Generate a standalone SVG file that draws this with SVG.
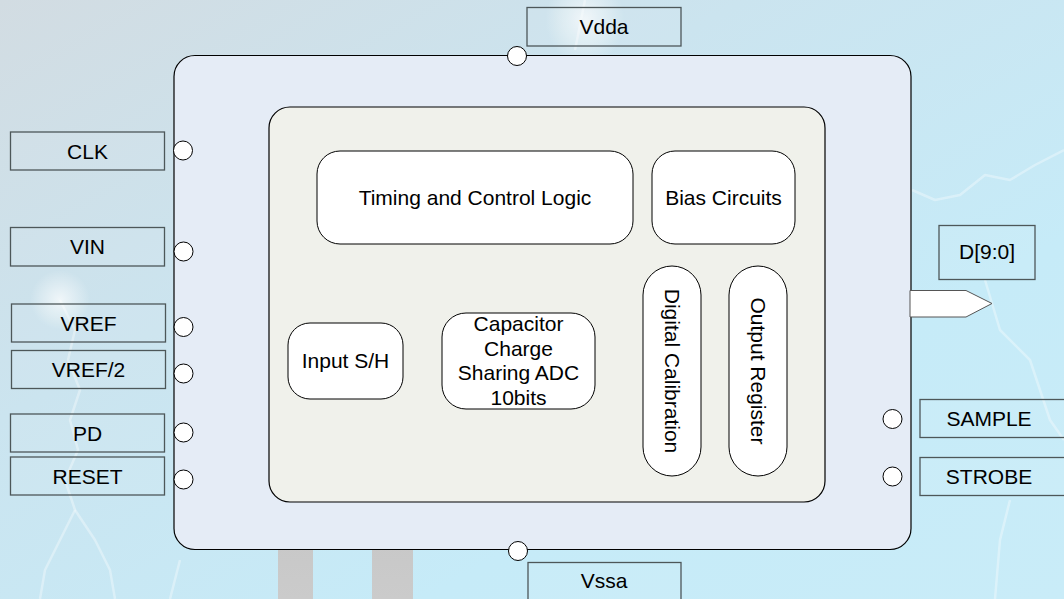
<svg xmlns="http://www.w3.org/2000/svg" width="1064" height="599" viewBox="0 0 1064 599">
<defs>
<linearGradient id="bg" x1="0" y1="0" x2="1" y2="1">
<stop offset="0" stop-color="#d2dce2"/>
<stop offset="0.35" stop-color="#cbe4ef"/>
<stop offset="0.7" stop-color="#c6ebf8"/>
<stop offset="1" stop-color="#c9ecf8"/>
</linearGradient>
<radialGradient id="glow" cx="0.5" cy="0.5" r="0.5">
<stop offset="0" stop-color="#ffffff" stop-opacity="0.7"/>
<stop offset="1" stop-color="#ffffff" stop-opacity="0"/>
</radialGradient>
<linearGradient id="bar" x1="0" y1="0" x2="0" y2="1">
<stop offset="0" stop-color="#c4c9cc" stop-opacity="0.2"/>
<stop offset="0.3" stop-color="#c8c8c8"/>
<stop offset="1" stop-color="#cbcbcb"/>
</linearGradient>
<style>
text{font-family:"Liberation Sans",Arial,sans-serif;font-size:21px;fill:#000;text-anchor:middle}
.lbl{fill:#ffffff;fill-opacity:0.06;stroke:#4d5759;stroke-width:1.3}
.pin{fill:#ffffff;stroke:#000;stroke-width:1}
.blk{fill:#ffffff;stroke:#000;stroke-width:1}
.bolt{fill:none;stroke:#ffffff;stroke-opacity:0.35;stroke-width:2.5;stroke-linejoin:round}
</style>
</defs>
<g id="background">
<rect x="0" y="0" width="1064" height="599" fill="url(#bg)"/>
<ellipse cx="585" cy="20" rx="40" ry="45" fill="url(#glow)"/>
<ellipse cx="60" cy="300" rx="30" ry="30" fill="url(#glow)"/>
<polyline class="bolt" points="60,300 75,330 68,360 80,390 70,420 78,450 65,480 75,510 60,540 45,570 40,599"/>
<polyline class="bolt" points="75,510 95,540 110,570 115,599"/>
<polyline class="bolt" points="585,0 580,25 575,50"/>
<polyline class="bolt" stroke-opacity="0.3" points="912,190 935,200 960,195 985,175 1010,180 1035,165 1064,150"/>
<polyline class="bolt" stroke-opacity="0.3" points="985,280 1000,330 1030,360 1050,420 1064,440"/>
<polyline class="bolt" stroke-opacity="0.25" points="1010,500 1000,540 995,599"/>
<polyline class="bolt" stroke-opacity="0.25" points="180,560 170,599"/>
<rect x="278" y="520" width="35" height="79" fill="url(#bar)"/>
<rect x="372" y="520" width="41" height="79" fill="url(#bar)"/>
</g>
<g id="chip">
<rect x="174" y="55.5" width="737" height="494" rx="21" fill="#e5ecf6" stroke="#000" stroke-width="1.2"/>
</g>
<g id="core">
<rect x="269" y="107" width="556" height="395" rx="21" fill="#f0f1eb" stroke="#000" stroke-width="1.2"/>
</g>
<g id="timing">
<rect class="blk" x="317" y="151" width="316" height="93" rx="23"/>
<text x="475" y="205">Timing and Control Logic</text>
</g>
<g id="bias">
<rect class="blk" x="652" y="151" width="143" height="93" rx="23"/>
<text x="723.5" y="205">Bias Circuits</text>
</g>
<g id="input-sh">
<rect class="blk" x="288" y="323" width="115" height="76" rx="22"/>
<text x="345.5" y="368">Input S/H</text>
</g>
<g id="adc">
<rect class="blk" x="442" y="313" width="153" height="96" rx="24"/>
<text x="518.5" y="331">Capacitor</text>
<text x="518.5" y="355.5">Charge</text>
<text x="518.5" y="380">Sharing ADC</text>
<text x="518.5" y="404.5">10bits</text>
</g>
<g id="digital-calibration">
<rect class="blk" x="643" y="266" width="58" height="210" rx="29"/>
<text transform="translate(672,371) rotate(90)" dy="7.5">Digital Calibration</text>
</g>
<g id="output-register">
<rect class="blk" x="729" y="266" width="58" height="210" rx="29"/>
<text transform="translate(758,371) rotate(90)" dy="7.5">Output Register</text>
</g>
<g id="pin-vdda">
<rect class="lbl" x="527" y="7.5" width="154" height="38.5"/>
<text x="604" y="34">Vdda</text>
<circle class="pin" cx="517" cy="56" r="9.5"/>
</g>
<g id="pin-vssa">
<rect class="lbl" x="528" y="562.5" width="153" height="45"/>
<text x="604" y="588">Vssa</text>
<circle class="pin" cx="518" cy="551" r="9.5"/>
</g>
<g id="pin-clk">
<rect class="lbl" x="10.5" y="132" width="154" height="38"/>
<text x="87.5" y="158.5">CLK</text>
<circle class="pin" cx="183" cy="150.5" r="9.5"/>
</g>
<g id="pin-vin">
<rect class="lbl" x="10.5" y="227.5" width="154" height="38.5"/>
<text x="87.5" y="254">VIN</text>
<circle class="pin" cx="183.5" cy="251.5" r="9.5"/>
</g>
<g id="pin-vref">
<rect class="lbl" x="11.5" y="304" width="154" height="38"/>
<text x="88.5" y="330.5">VREF</text>
<circle class="pin" cx="183.5" cy="327" r="9.5"/>
</g>
<g id="pin-vref2">
<rect class="lbl" x="11.5" y="350.5" width="154" height="38"/>
<text x="88.5" y="377">VREF/2</text>
<circle class="pin" cx="183.5" cy="373.5" r="9.5"/>
</g>
<g id="pin-pd">
<rect class="lbl" x="10.5" y="414" width="154" height="38"/>
<text x="87.5" y="440.5">PD</text>
<circle class="pin" cx="183.5" cy="432.5" r="9.5"/>
</g>
<g id="pin-reset">
<rect class="lbl" x="10.5" y="457" width="154" height="38"/>
<text x="87.5" y="483.5">RESET</text>
<circle class="pin" cx="183.5" cy="479.5" r="9.5"/>
</g>
<g id="pin-d">
<rect class="lbl" x="939" y="225.5" width="96" height="54"/>
<text x="987" y="259">D[9:0]</text>
<polygon points="910,290.5 966,290.5 992,303.5 966,317 910,317" fill="#ffffff" stroke="#555" stroke-width="1"/>
</g>
<g id="pin-sample">
<rect class="lbl" x="920" y="399.5" width="150" height="38"/>
<text x="989" y="425.5">SAMPLE</text>
<circle class="pin" cx="892.5" cy="419" r="9.5"/>
</g>
<g id="pin-strobe">
<rect class="lbl" x="920" y="457.5" width="150" height="38"/>
<text x="989" y="483.5">STROBE</text>
<circle class="pin" cx="892.5" cy="476.5" r="9.5"/>
</g>
<g id="connectors"/>
</svg>
